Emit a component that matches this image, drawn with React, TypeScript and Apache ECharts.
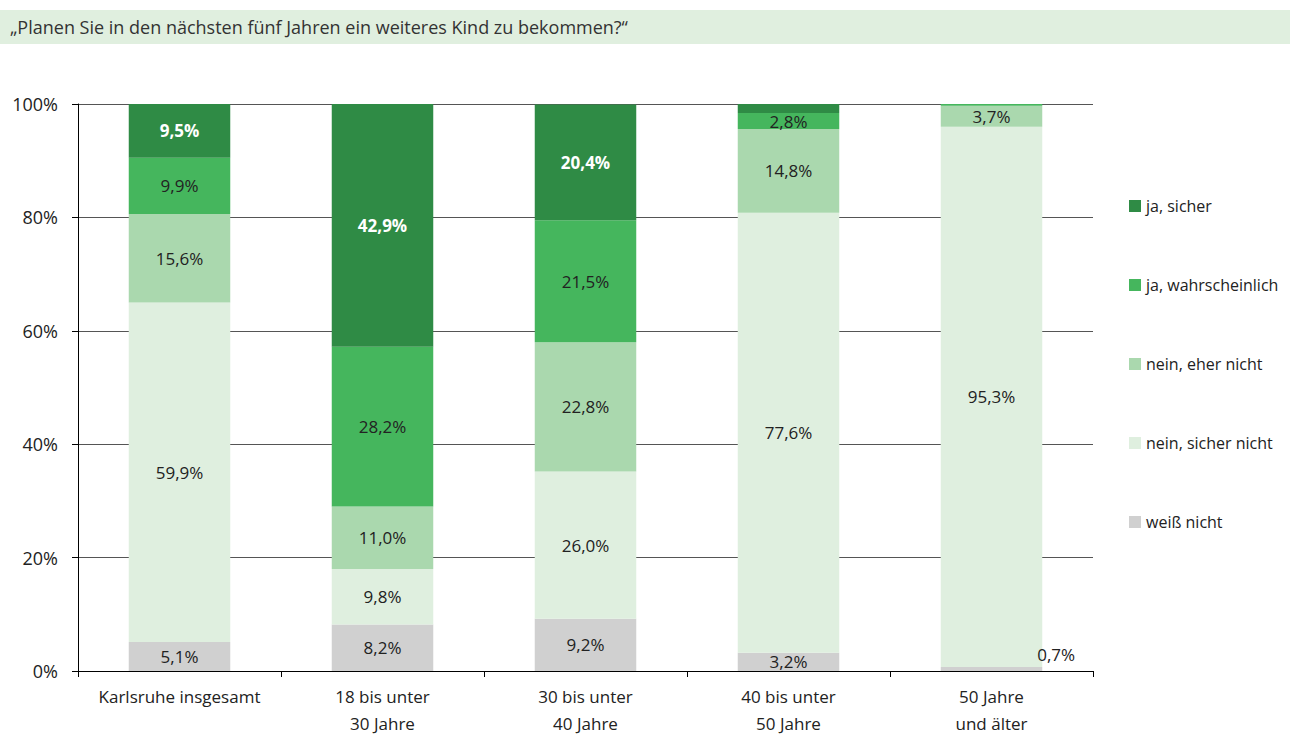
import React, { useEffect, useRef } from "react";
import * as echarts from "echarts";

const categories = [
  "Karlsruhe insgesamt",
  "18 bis unter\n30 Jahre",
  "30 bis unter\n40 Jahre",
  "40 bis unter\n50 Jahre",
  "50 Jahre\nund älter",
];
const seriesNames = ["weiß nicht", "nein, sicher nicht", "nein, eher nicht", "ja, wahrscheinlich", "ja, sicher"];
const weissNicht = [5.1, 8.2, 9.2, 3.2, 0.7];
const neinSicherNicht = [59.9, 9.8, 26.0, 77.6, 95.3];
const neinEherNicht = [15.6, 11.0, 22.8, 14.8, 3.7];
const jaWahrscheinlich = [9.9, 28.2, 21.5, 2.8, 0.3];
const jaSicher = [9.5, 42.9, 20.4, 1.6, 0];
const yTicks = [0, 20, 40, 60, 80, 100];

const colors = ["#d0d0d0", "#dfefdf", "#aad8ae", "#45b65d", "#2f8b45"];
const FONT = "'Open Sans', sans-serif";

const fmt = (v: number) => v.toFixed(1).replace(".", ",") + "%";

export default function App() {
  const ref = useRef<HTMLDivElement>(null);
  useEffect(() => {
    if (!ref.current) return;
    const chart = echarts.init(ref.current, undefined, { renderer: "svg" });
    const allData = [weissNicht, neinSicherNicht, neinEherNicht, jaWahrscheinlich, jaSicher];
    const series = allData.map((arr, si) => ({
      name: seriesNames[si],
      type: "bar",
      stack: "total",
      barWidth: "50%",
      itemStyle: { color: colors[si] },
      data: arr.map((v, ci) => {
        const d: any = { value: v };
        let show = true;
        if (si === 4 && ci === 3) show = false;
        if (si === 3 && ci === 4) show = false;
        if (si === 4 && ci === 4) show = false;
        const label: any = { show };
        if (si === 0 && ci === 4) {
          label.position = "right";
          label.offset = [-10, -15];
        }
        d.label = label;
        return d;
      }),
      label: {
        show: true,
        position: "inside",
        fontFamily: FONT,
        fontSize: 17,
        color: si === 4 ? "#ffffff" : "#222222",
        fontWeight: si === 4 ? "bold" : "normal",
        formatter: (p: any) => fmt(p.value),
      },
    }));
    chart.setOption({
      animation: false,
      textStyle: { fontFamily: FONT },
      graphic: [
        { type: "rect", shape: { x: 0, y: 10, width: 1290, height: 34 }, style: { fill: "#e0efdf" }, silent: true },
        {
          type: "text",
          x: 10,
          y: 27,
          style: {
            text: "„Planen Sie in den nächsten fünf Jahren ein weiteres Kind zu bekommen?“",
            fontFamily: FONT,
            fontSize: 18,
            fill: "#333333",
            textVerticalAlign: "middle",
          },
        },
      ],
      legend: {
        orient: "vertical",
        left: 1124,
        top: 192,
        itemWidth: 12,
        itemHeight: 12,
        itemGap: 61,
        icon: "rect",
        data: ["ja, sicher", "ja, wahrscheinlich", "nein, eher nicht", "nein, sicher nicht", "weiß nicht"],
        textStyle: { fontFamily: FONT, fontSize: 16, color: "#222", lineHeight: 18 },
      },
      grid: { left: 78, right: 197, top: 104, bottom: 65 },
      xAxis: {
        type: "category",
        data: categories,
        axisLine: { lineStyle: { color: "#000", width: 1 } },
        axisTick: { show: true, length: 6, lineStyle: { color: "#000" } },
        axisLabel: { interval: 0, fontFamily: FONT, fontSize: 17, color: "#222", lineHeight: 27, margin: 12 },
      },
      yAxis: {
        type: "value",
        min: 0,
        max: 100,
        interval: 20,
        axisLine: { show: true, lineStyle: { color: "#000" } },
        axisTick: { show: true, length: 6, lineStyle: { color: "#000" } },
        axisLabel: {
          fontFamily: FONT,
          fontSize: 18,
          color: "#222",
          margin: 20,
          formatter: (v: number) => (yTicks.includes(v) ? v + "%" : ""),
        },
        splitLine: { show: true, lineStyle: { color: "#555", width: 1 } },
      },
      series,
    });
    return () => chart.dispose();
  }, []);
  return (
    <div
      ref={ref}
      style={{ position: "absolute", left: 0, top: 0, width: 1290, height: 737, background: "#fff" }}
    />
  );
}
